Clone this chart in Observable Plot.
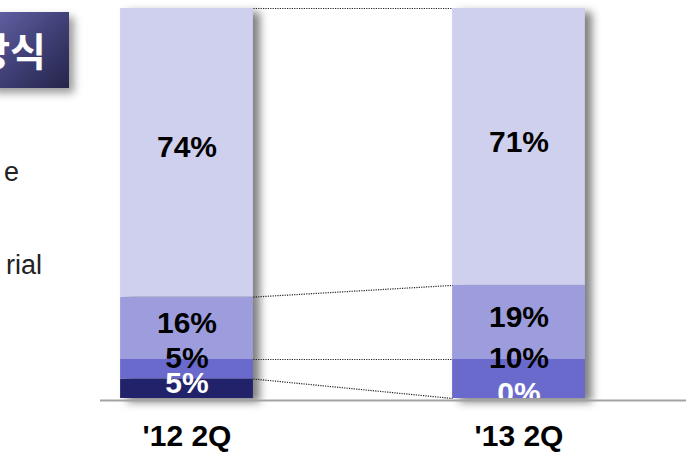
<!DOCTYPE html>
<html>
<head>
<meta charset="utf-8">
<script src="https://cdn.jsdelivr.net/npm/d3@7"></script>
<script src="https://cdn.jsdelivr.net/npm/@observablehq/plot@0.6"></script>
<style>
  html, body { margin: 0; padding: 0; background: #fff; }
  #chart { width: 686px; height: 452px; overflow: hidden; position: relative; }
</style>
</head>
<body>
<div id="chart"></div>
<script>
// ---- data ----
const categories = ["'12 2Q", "'13 2Q"];
const seriesNames = ["s1", "s2", "s3", "s4"];          // stacked bottom -> top
const values12 = [5, 5, 16, 74];
const values13 = [0, 10, 19, 71];
const seriesColors = ["#22226a", "#6a6acc", "#9d9ddd", "#cfcfee"];
const labelColors = ["#ffffff", "#000000", "#000000", "#000000"];
const sideTexts = ["e", "rial"];
const boxTitle = "방식";

// ---- derived table ----
const valuesByCat = [values12, values13];
const rows = [];
valuesByCat.forEach((vals, ci) => {
  let acc = 0;
  vals.forEach((v, si) => {
    rows.push({ci, si, v, y1: acc, y2: acc + v, fill: seriesColors[si], color: labelColors[si]});
    acc += v;
  });
});
const links = seriesNames.map((s, si) => ({
  y1: rows.find(r => r.ci === 0 && r.si === si).y2,
  y2: rows.find(r => r.ci === 1 && r.si === si).y2
}));
const half = 0.2;
const font = "'Liberation Sans', Arial, Helvetica, sans-serif";

const plot = Plot.plot({
  width: 686,
  height: 452,
  marginTop: 8,
  marginBottom: 54,
  marginLeft: 100,
  marginRight: 0,
  x: {domain: [0, 1], range: [186.5, 518.5], axis: null},
  y: {domain: [0, 100], axis: null},
  color: {type: "identity"},
  style: {fontFamily: font, background: "transparent", overflow: "hidden"},
  marks: [
    Plot.rect(rows, {x1: d => d.ci - half, x2: d => d.ci + half, y1: "y1", y2: "y2", fill: "fill"}),
    Plot.ruleY([0], {stroke: "#a3a3a3", strokeWidth: 2, dy: 2}),
    Plot.link(links, {x1: () => 0 + half, x2: () => 1 - half, y1: "y1", y2: "y2",
      stroke: "#222", strokeWidth: 1.2, strokeDasharray: "1.2,1.2"}),
    Plot.text(rows.filter(d => d.si !== 1), {x: "ci", y: d => (d.y1 + d.y2) / 2, text: d => d.v + "%",
      fill: "color", fontSize: 30, fontWeight: "bold", fontFamily: font, dy: -5, clip: true}),
    Plot.text(rows.filter(d => d.si === 1), {x: "ci", y: "y2", text: d => d.v + "%",
      fill: "color", fontSize: 30, fontWeight: "bold", fontFamily: font, dy: -1, clip: true}),
    Plot.text(categories.map((c, i) => ({c, i})), {x: "i", y: () => 0, text: "c",
      fill: "#000", fontSize: 30, fontWeight: "bold", fontFamily: font, dy: 38})
  ]
});

const svg = d3.select(plot);
svg.selectAll('g[aria-label="rect"]').style("filter", "drop-shadow(7px 4px 4px rgba(0,0,0,0.5))");

// left-side slide fragments
const defs = svg.insert("defs", ":first-child");
const grad = defs.append("linearGradient").attr("id", "boxGrad")
  .attr("x1", "0").attr("y1", "0").attr("x2", "1").attr("y2", "1");
grad.append("stop").attr("offset", "0").attr("stop-color", "#6464a8");
grad.append("stop").attr("offset", "0.55").attr("stop-color", "#3e3e74");
grad.append("stop").attr("offset", "1").attr("stop-color", "#25254a");
const deco = svg.append("g").attr("aria-label", "slide fragments");
deco.append("rect").attr("x", -12).attr("y", 12).attr("width", 81).attr("height", 76)
  .attr("fill", "url(#boxGrad)")
  .style("filter", "drop-shadow(5px 5px 4px rgba(0,0,0,0.4))");
deco.append("text").attr("x", 46).attr("y", 66).attr("text-anchor", "end")
  .attr("fill", "#fff").attr("font-size", 39).attr("font-weight", "bold")
  .attr("font-family", "'Noto Sans CJK KR', sans-serif").text(boxTitle);
deco.append("text").attr("x", 19).attr("y", 181).attr("text-anchor", "end")
  .attr("fill", "#222").attr("font-size", 27).attr("font-family", font).text(sideTexts[0]);
deco.append("text").attr("x", 42).attr("y", 274).attr("text-anchor", "end")
  .attr("fill", "#222").attr("font-size", 27).attr("font-family", font).text(sideTexts[1]);

document.getElementById("chart").appendChild(plot);
</script>
</body>
</html>
